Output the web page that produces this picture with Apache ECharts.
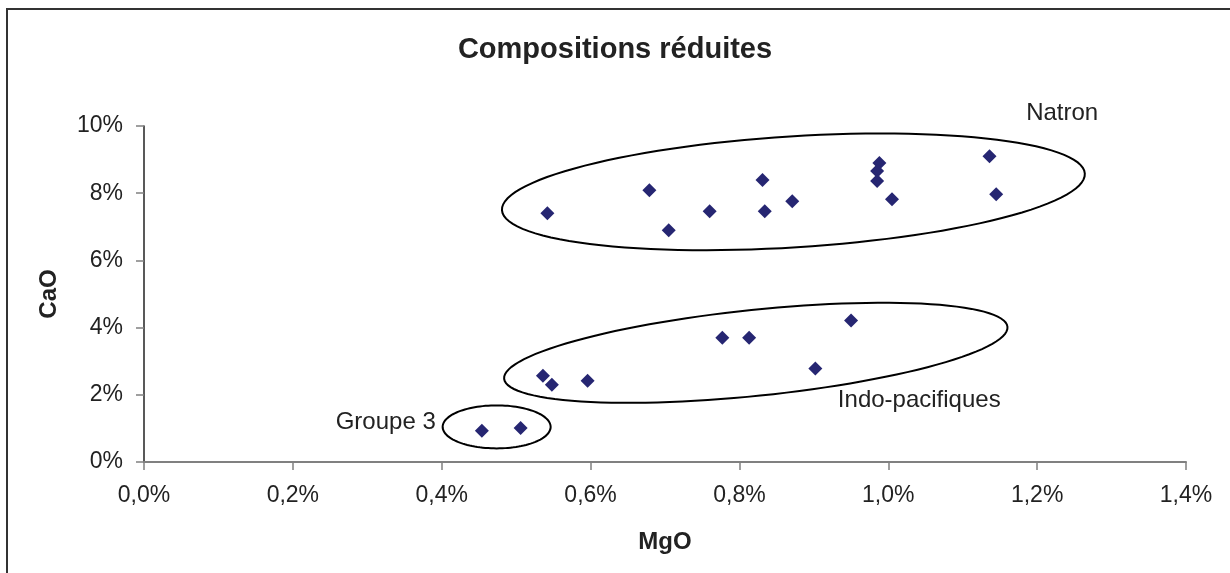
<!DOCTYPE html>
<html>
<head>
<meta charset="utf-8">
<script src="https://cdn.jsdelivr.net/npm/echarts@6/dist/echarts.min.js"></script>
<style>
  html, body { margin: 0; padding: 0; background: #fff; }
  #chart { width: 1230px; height: 573px; }
</style>
</head>
<body>
<div id="chart"></div>
<script>
// MgO / CaO in %
const natronMgO = [0.542, 0.679, 0.705, 0.760, 0.831, 0.834, 0.871, 0.988, 0.985, 0.985, 1.005, 1.136, 1.145];
const natronCaO = [7.40, 8.09, 6.90, 7.46, 8.39, 7.46, 7.76, 8.90, 8.66, 8.36, 7.82, 9.10, 7.97];
const indoMgO = [0.536, 0.548, 0.596, 0.777, 0.813, 0.902, 0.950];
const indoCaO = [2.57, 2.30, 2.42, 3.70, 3.70, 2.78, 4.21];
const groupe3MgO = [0.454, 0.506];
const groupe3CaO = [0.93, 1.01];

const xTicks = [0, 0.2, 0.4, 0.6, 0.8, 1.0, 1.2, 1.4];
const yTicks = [0, 2, 4, 6, 8, 10];

// group annotations: name, centre of the ellipse (MgO, CaO), label spot
const groupNames = ['Natron', 'Indo-pacifiques', 'Groupe 3'];
const ellipseCentres = [[0.8725, 8.04], [0.822, 3.25], [0.4738, 1.045]];
const labelAt = [[1.2336, 10.39], [1.0416, 1.82], [0.392, 1.19]];

// ellipse sizes in px: semi-axis a, semi-axis b, tilt (deg)
const ellipseShape = [[292, 55.5, -3.6], [253, 43, -5.9], [54, 21.5, 0]];
const labelAlign = ['center', 'center', 'right'];

const pts = [];
natronMgO.forEach((v, i) => pts.push([v, natronCaO[i]]));
indoMgO.forEach((v, i) => pts.push([v, indoCaO[i]]));
groupe3MgO.forEach((v, i) => pts.push([v, groupe3CaO[i]]));

const chart = echarts.init(document.getElementById('chart'));
const font = 'Arial, "Liberation Sans", sans-serif';
const txt = '#222';

const option = {
  animation: false,
  backgroundColor: '#fff',
  textStyle: { fontFamily: font },
  title: {
    text: 'Compositions réduites',
    left: 'center',
    top: 30,
    textStyle: { fontSize: 29, fontWeight: 'bold', color: txt, fontFamily: font }
  },
  graphic: [{
    type: 'rect',
    shape: { x: 7, y: 9, width: 1400, height: 800 },
    style: { fill: null, stroke: '#333', lineWidth: 2 },
    silent: true
  }],
  grid: { left: 144, right: 44, top: 126, bottom: 111 },
  xAxis: {
    type: 'value',
    min: 0, max: 1.4, interval: 0.2,
    name: 'MgO',
    nameLocation: 'middle',
    nameGap: 68,
    nameMoveOverlap: false,
    nameTextStyle: { fontSize: 24, fontWeight: 'bold', color: txt },
    axisLine: { lineStyle: { color: '#808080', width: 2 } },
    axisTick: { length: 8, lineStyle: { color: '#808080', width: 1.5 } },
    axisLabel: {
      fontSize: 23, color: txt, margin: 22,
      formatter: v => v.toFixed(1).replace('.', ',') + '%'
    },
    splitLine: { show: false }
  },
  yAxis: {
    type: 'value',
    min: 0, max: 10, interval: 2,
    name: 'CaO',
    nameLocation: 'middle',
    nameGap: 83,
    nameMoveOverlap: false,
    nameTextStyle: { fontSize: 24, fontWeight: 'bold', color: txt },
    axisLine: { show: true, lineStyle: { color: '#222', width: 1.5 } },
    axisTick: { show: true, length: 8, lineStyle: { color: '#808080', width: 1.5 } },
    axisLabel: { fontSize: 23, color: txt, margin: 21, formatter: v => v + '%' },
    splitLine: { show: false }
  },
  series: [
    {
      type: 'scatter',
      data: pts,
      symbol: 'diamond',
      symbolSize: [14, 14],
      itemStyle: { color: '#262672', opacity: 1 },
      z: 3
    },
    {
      type: 'custom',
      data: ellipseCentres.map((c, i) => [c[0], c[1], i]),
      clip: false,
      silent: true,
      renderItem: (params, api) => {
        const c = api.coord([api.value(0), api.value(1)]);
        const s = ellipseShape[api.value(2)];
        const t = s[2] * Math.PI / 180;
        const points = [];
        for (let k = 0; k < 120; k++) {
          const u = k / 120 * Math.PI * 2;
          const ex = s[0] * Math.cos(u), ey = s[1] * Math.sin(u);
          points.push([c[0] + ex * Math.cos(t) - ey * Math.sin(t),
                       c[1] + ex * Math.sin(t) + ey * Math.cos(t)]);
        }
        return {
          type: 'polygon',
          shape: { points: points },
          style: { fill: null, stroke: '#000', lineWidth: 2 }
        };
      },
      z: 2
    },
    {
      type: 'custom',
      data: labelAt.map((p, i) => [p[0], p[1], i]),
      clip: false,
      silent: true,
      renderItem: (params, api) => {
        const c = api.coord([api.value(0), api.value(1)]);
        const i = api.value(2);
        return {
          type: 'text',
          x: c[0], y: c[1],
          style: {
            text: groupNames[i],
            fill: txt,
            font: '24px ' + font,
            align: labelAlign[i],
            verticalAlign: 'middle'
          }
        };
      },
      z: 4
    }
  ]
};
chart.setOption(option);
</script>
</body>
</html>
